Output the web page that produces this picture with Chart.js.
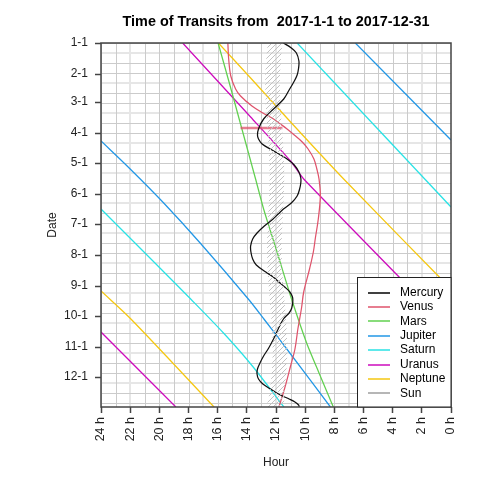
<!DOCTYPE html>
<html><head><meta charset="utf-8">
<script src="https://cdn.jsdelivr.net/npm/chart.js@4/dist/chart.umd.min.js"></script>
<style>html,body{margin:0;padding:0;background:#fff}#wrap{width:480px;height:480px;position:relative}</style>
</head><body><div id="wrap"><canvas id="c" width="480" height="480" style="width:480px;height:480px"></canvas></div>
<script>
// ---------- text ----------
const chartTitle = 'Time of Transits from  2017-1-1 to 2017-12-31';
const xTitle = 'Hour';
const yTitle = 'Date';

// ---------- ticks ----------
const dateTickDays = [0, 31, 59, 90, 120, 151, 181, 212, 243, 273, 304, 334];
const dateTickLabels = ['1-1','2-1','3-1','4-1','5-1','6-1','7-1','8-1','9-1','10-1','11-1','12-1'];
const hourTickValues = [0, 2, 4, 6, 8, 10, 12, 14, 16, 18, 20, 22, 24];
const hourTickLabels = ['0 h','2 h','4 h','6 h','8 h','10 h','12 h','14 h','16 h','18 h','20 h','22 h','24 h'];

// ---------- grid ----------
const gridHoursMinor = [0,1,2,3,4,5,6,7,8,9,10,11,12,13,14,15,16,17,18,19,20,21,22,23,24];
const gridHoursMajor = [2, 7, 12, 17, 22];
const gridDaysMinor = [0,10,20,30,40,50,60,70,80,90,100,110,120,130,140,150,160,170,180,190,200,210,220,230,240,250,260,270,280,290,300,310,320,330,340,350,360];
const gridDaysMajor = [10, 40, 70, 100, 130, 160, 190, 220, 250, 280, 310, 340];

// ---------- series (day of year, transit hour) ----------
const mercuryDays  = [0,5,10,18,25,32,39,47,56,66,76,86,92,96,101,106,111,116,122,129,135,140,146,153,160,166,171,176,183,190,196,203,209,216,222,229,234,239,244,249,254,259,265,270,276,286,296,305,313,320,326,331,336,341,346,350,353,356,359,362,364];
const mercuryHours = [11.49,10.95,10.6,10.43,10.45,10.55,10.78,11.1,11.47,12.17,12.85,13.2,13.27,13.2,12.95,12.4,11.8,11.24,10.75,10.43,10.3,10.3,10.38,10.55,10.95,11.49,11.85,12.2,12.8,13.3,13.6,13.74,13.72,13.6,13.35,12.7,12.2,11.8,11.4,11.05,10.87,10.85,10.92,11.1,11.49,11.85,12.17,12.5,12.85,13.1,13.27,13.3,13.2,12.9,12.38,11.95,11.55,11.1,10.7,10.45,10.4];

const venusDays  = [0,15,33,46,53,63,70,76,81,86,92,99,106,116,126,136,153,176,195,209,226,249,265,286,306,323,345,364];
const venusHours = [15.3,15.25,15.1,14.77,14.43,13.65,12.9,12.17,11.7,11.24,10.75,10.2,9.8,9.4,9.2,9.05,8.96,9.1,9.3,9.44,9.7,10.1,10.25,10.5,10.7,11.0,11.4,11.8];
const venusJumpDays  = [85, 85];
const venusJumpHours = [14.43, 11.56];

const marsDays  = [0, 40, 80, 136, 166, 207, 253, 300, 330, 364];
const marsHours = [15.97, 15.2, 14.45, 13.4, 12.85, 11.97, 11.0, 9.9, 9.05, 8.07];

const jupiterDays1  = [0, 97];
const jupiterHours1 = [6.56, 0];
const jupiterDays2  = [98, 126, 160, 200, 256, 276, 311, 364];
const jupiterHours2 = [24, 22.0, 19.7, 17.2, 13.9, 12.83, 11.0, 8.27];

const saturnDays1  = [0, 164];
const saturnHours1 = [10.55, 0];
const saturnDays2  = [166, 220, 256, 290, 323, 364];
const saturnHours2 = [24, 20.3, 17.85, 15.6, 13.62, 11.46];

const uranusDays1  = [0, 74, 118, 136, 287];
const uranusHours1 = [18.4, 13.74, 11.0, 10.1, 0];
const uranusDays2  = [289, 364];
const uranusHours2 = [24, 18.87];

const neptuneDays1  = [0, 35, 79, 136, 246];
const neptuneHours1 = [15.95, 13.74, 11.0, 7.36, 0];
const neptuneDays2  = [248, 276, 364];
const neptuneHours2 = [24, 21.95, 16.25];

const sunDays      = [0,15,31,41,59,74,90,105,120,134,151,166,181,196,207,212,227,243,258,273,288,306,319,334,349,364];
const sunLateHours = [12.555,12.66,12.725,12.737,12.707,12.648,12.567,12.5,12.452,12.438,12.463,12.51,12.563,12.602,12.608,12.605,12.572,12.5,12.417,12.332,12.263,12.227,12.247,12.317,12.425,12.547];
const sunEarlyHours= [11.555,11.66,11.725,11.737,11.707,11.648,11.567,11.5,11.452,11.438,11.463,11.51,11.563,11.602,11.608,11.605,11.572,11.5,11.417,11.332,11.263,11.227,11.247,11.317,11.425,11.547];

// ---------- legend ----------
const legendNames  = ['Mercury','Venus','Mars','Jupiter','Saturn','Uranus','Neptune','Sun'];
const legendColors = ['#000000','#DF536B','#61D04F','#2297E6','#28E2E5','#CD0BBC','#F5C710','#9E9E9E'];

// ---------- build ----------
const pts = (d, h) => d.map((v, i) => ({x: h[i], y: v}));
const line = (d, h, color, tension, width) => ({
  data: pts(d, h), borderColor: color, borderWidth: width || 1.25, showLine: true,
  pointRadius: 0, fill: false, tension: tension || 0
});

function makeHatch() {
  const c = document.createElement('canvas');
  c.width = 5; c.height = 5;
  const g = c.getContext('2d');
  g.strokeStyle = '#c2c2c2'; g.lineWidth = 1;
  g.beginPath();
  g.moveTo(0, 5); g.lineTo(5, 0);
  g.moveTo(-1, 1); g.lineTo(1, -1);
  g.moveTo(4, 6); g.lineTo(6, 4);
  g.stroke();
  return g.createPattern(c, 'repeat');
}

const sunShape = pts(sunDays, sunLateHours).concat(pts(sunDays, sunEarlyHours).reverse());

const datasets = [
  {data: sunShape, showLine: true, pointRadius: 0, borderWidth: 0, borderColor: 'rgba(0,0,0,0)', backgroundColor: makeHatch(), fill: 'shape', tension: 0.3},
  line(mercuryDays, mercuryHours, '#111111', 0.35),
  line(venusDays, venusHours, legendColors[1], 0.35),
  line(venusJumpDays, venusJumpHours, 'rgba(223,83,107,0.75)', 0, 2.5),
  line(marsDays, marsHours, legendColors[2], 0.2),
  line(jupiterDays1, jupiterHours1, legendColors[3]),
  line(jupiterDays2, jupiterHours2, legendColors[3], 0.3),
  line(saturnDays1, saturnHours1, legendColors[4]),
  line(saturnDays2, saturnHours2, legendColors[4], 0.3),
  line(uranusDays1, uranusHours1, legendColors[5], 0.2),
  line(uranusDays2, uranusHours2, legendColors[5]),
  line(neptuneDays1, neptuneHours1, legendColors[6], 0.2),
  line(neptuneDays2, neptuneHours2, legendColors[6], 0.3)
];

const FONT = '"Liberation Sans", Arial, Helvetica, sans-serif';

const decor = {
  id: 'decor',
  beforeDraw(chart) {
    const ctx = chart.ctx;
    ctx.save(); ctx.fillStyle = '#fff'; ctx.fillRect(0, 0, chart.width, chart.height); ctx.restore();
  },
  beforeDatasetsDraw(chart) {
    const {ctx, chartArea: a, scales: {x, y}} = chart;
    ctx.save();
    ctx.beginPath(); ctx.rect(a.left, a.top, a.right - a.left, a.bottom - a.top); ctx.clip();
    ctx.strokeStyle = '#e6e6e6'; ctx.lineWidth = 2;
    gridHoursMajor.forEach(h => { const px = Math.round(x.getPixelForValue(h)); ctx.beginPath(); ctx.moveTo(px, a.top); ctx.lineTo(px, a.bottom); ctx.stroke(); });
    gridDaysMajor.forEach(d => { const py = Math.round(y.getPixelForValue(d)); ctx.beginPath(); ctx.moveTo(a.left, py); ctx.lineTo(a.right, py); ctx.stroke(); });
    ctx.strokeStyle = '#cbcbcb'; ctx.lineWidth = 1;
    gridHoursMinor.forEach(h => { if (gridHoursMajor.includes(h)) return; const px = Math.round(x.getPixelForValue(h)) + 0.5; ctx.beginPath(); ctx.moveTo(px, a.top); ctx.lineTo(px, a.bottom); ctx.stroke(); });
    gridDaysMinor.forEach(d => { if (gridDaysMajor.includes(d)) return; const py = Math.round(y.getPixelForValue(d)) + 0.5; ctx.beginPath(); ctx.moveTo(a.left, py); ctx.lineTo(a.right, py); ctx.stroke(); });
    ctx.restore();
  },
  afterDatasetsDraw(chart) {
    const {ctx, chartArea: a} = chart;
    ctx.save();
    ctx.strokeStyle = '#444'; ctx.lineWidth = 1.5;
    ctx.strokeRect(a.left, a.top, a.right - a.left, a.bottom - a.top);
    const lx = 357.5, ly = 277.5, lw = a.right - lx, lh = a.bottom - ly;
    ctx.fillStyle = '#fff'; ctx.fillRect(lx, ly, lw, lh);
    ctx.strokeStyle = '#222'; ctx.lineWidth = 1;
    ctx.strokeRect(lx, ly, lw, lh);
    ctx.font = '12px ' + FONT; ctx.textBaseline = 'middle'; ctx.textAlign = 'left';
    legendNames.forEach((n, i) => {
      const yy = 292.5 + i * 14.4;
      ctx.strokeStyle = legendColors[i]; ctx.lineWidth = 1.5;
      ctx.beginPath(); ctx.moveTo(368, Math.round(yy)); ctx.lineTo(390, Math.round(yy)); ctx.stroke();
      ctx.fillStyle = '#000'; ctx.fillText(n, 400, yy);
    });
    ctx.restore();
  },
  afterDraw(chart) {
    const {ctx, chartArea: a} = chart;
    ctx.save();
    ctx.font = 'bold 14.4px ' + FONT; ctx.fillStyle = '#000'; ctx.textAlign = 'center'; ctx.textBaseline = 'middle';
    ctx.fillText(chartTitle, (a.left + a.right) / 2, 22);
    ctx.restore();
  }
};

new Chart(document.getElementById('c'), {
  type: 'scatter',
  data: {datasets},
  options: {
    responsive: false, animation: false, devicePixelRatio: 1,
    layout: {padding: {top: 43, right: 29, left: 0, bottom: 0}},
    plugins: {legend: {display: false}, tooltip: {enabled: false}, title: {display: false}},
    scales: {
      x: {
        type: 'linear', reverse: true, min: 0, max: 24,
        afterFit: s => { s.height = 73; },
        afterBuildTicks: s => { s.ticks = hourTickValues.map(v => ({value: v})); },
        ticks: {autoSkip: false, minRotation: 90, maxRotation: 90, padding: 4, color: '#222',
          font: {family: FONT, size: 12.5},
          callback: (v) => hourTickLabels[hourTickValues.indexOf(v)]},
        grid: {drawOnChartArea: false, drawTicks: true, tickLength: 6, tickColor: '#444', tickWidth: 1.5},
        border: {display: false},
        title: {display: true, text: xTitle, color: '#222', font: {family: FONT, size: 12}, padding: {top: 0, bottom: 10}}
      },
      y: {
        type: 'linear', reverse: true, min: 0, max: 364,
        afterFit: s => { s.width = 101; },
        afterBuildTicks: s => { s.ticks = dateTickDays.map(v => ({value: v})); },
        ticks: {autoSkip: false, padding: 7, color: '#222', font: {family: FONT, size: 12},
          callback: (v) => dateTickLabels[dateTickDays.indexOf(v)]},
        grid: {drawOnChartArea: false, drawTicks: true, tickLength: 6, tickColor: '#444', tickWidth: 1.5},
        border: {display: false},
        title: {display: true, text: yTitle, color: '#222', font: {family: FONT, size: 12}, padding: {top: 45, bottom: 0}}
      }
    }
  },
  plugins: [decor]
});
</script></body></html>
